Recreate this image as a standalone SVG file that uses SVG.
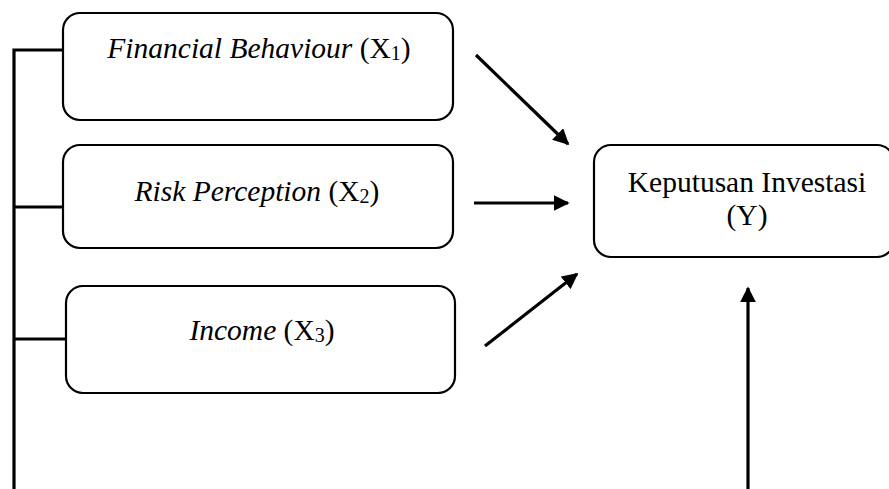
<svg xmlns="http://www.w3.org/2000/svg" width="889" height="489" viewBox="0 0 889 489">
<style>
.box{fill:#fff;stroke:#000;stroke-width:2.2}
.t{font-family:"Liberation Serif","Times New Roman",serif;font-size:29.5px;fill:#000;text-anchor:middle}
.i{font-style:italic}
.sub{font-size:20px}
.ln{stroke:#000;stroke-width:3.2;fill:none}
</style>
<defs>
<marker id="ah" viewBox="0 0 10 10" refX="9" refY="5" markerWidth="5" markerHeight="5" orient="auto" markerUnits="strokeWidth">
<path d="M0,0 L10,5 L0,10 z" fill="#000"/>
</marker>
</defs>
<g id="connectors">
<path class="ln" d="M14,489 V50 H63"/>
<path class="ln" d="M14,207 H63"/>
<path class="ln" d="M14,339 H66"/>
<line class="ln" x1="476" y1="55" x2="568" y2="144" marker-end="url(#ah)"/>
<line class="ln" x1="474" y1="203" x2="568" y2="203" marker-end="url(#ah)"/>
<line class="ln" x1="485" y1="346" x2="577" y2="274" marker-end="url(#ah)"/>
<line class="ln" x1="748" y1="489" x2="748" y2="288" marker-end="url(#ah)"/>
</g>
<g id="x1">
<rect class="box" x="63" y="13" width="390" height="107" rx="17"/>
<text class="t" x="259" y="58"><tspan class="i">Financial Behaviour</tspan> (X<tspan class="sub" dy="2">1</tspan><tspan dy="-2">)</tspan></text>
</g>
<g id="x2">
<rect class="box" x="63" y="145" width="390" height="103" rx="17"/>
<text class="t" x="257" y="201"><tspan class="i">Risk Perception</tspan> (X<tspan class="sub" dy="2">2</tspan><tspan dy="-2">)</tspan></text>
</g>
<g id="x3">
<rect class="box" x="66" y="286" width="389" height="107" rx="17"/>
<text class="t" x="262" y="340"><tspan class="i">Income</tspan> (X<tspan class="sub" dy="2">3</tspan><tspan dy="-2">)</tspan></text>
</g>
<g id="y">
<rect class="box" x="594" y="145" width="300" height="112" rx="17"/>
<text class="t" x="747" y="192">Keputusan Investasi</text>
<text class="t" x="747" y="225">(Y)</text>
</g>
</svg>
